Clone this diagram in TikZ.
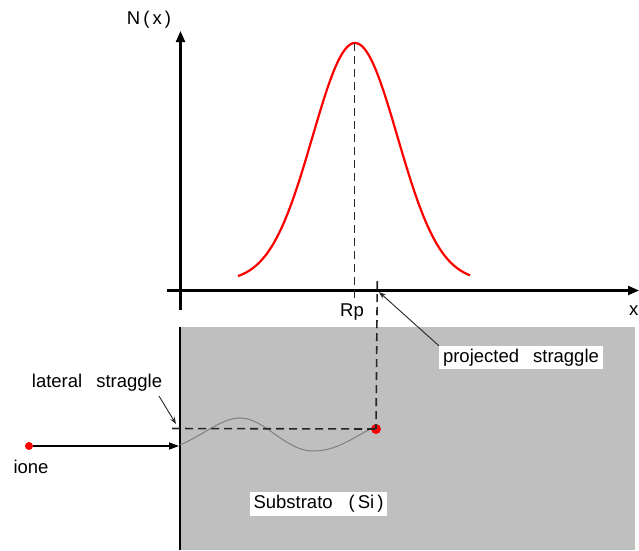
\documentclass[tikz,border=0pt]{standalone}
\usepackage{fontspec}
\setmainfont{Liberation Sans}
\usetikzlibrary{arrows.meta}
\tikzset{
  axisline/.style={line width=2.2pt, -{Triangle[length=11pt,width=9pt]}},
  dashline/.style={line width=1.6pt, dash pattern=on 8pt off 5pt, black!85},
  thinarrow/.style={line width=0.9pt, black!85, -{Stealth[length=7pt,width=5pt]}},
  ionarrow/.style={line width=1.4pt, -{Triangle[length=10pt,width=7pt]}},
  lbl/.style={font=\fontsize{18.5}{22}\selectfont, inner sep=0pt},
  boxlbl/.style={font=\fontsize{18.5}{22}\selectfont, fill=white, inner xsep=4pt, inner ysep=3pt},
  reddot/.style={circle, fill=red, inner sep=0pt},
}
\begin{document}
\begin{tikzpicture}[x=1pt, y=-1pt]
\useasboundingbox (0,0) rectangle (639,550);
% substrate
\fill[black!25] (180,327) rectangle (635,550);
\draw[line width=2.6pt] (180,327) -- (180,550);
% axes
\coordinate (yb) at (180.5,310);
\coordinate (yt) at (180.5,31);
\coordinate (xl) at (167,290.5);
\coordinate (xr) at (639,290.5);
\draw[axisline] (yb) -- (yt);
\draw[axisline] (xl) -- (xr);
\node[lbl] (N) at (149,20) {N\,(\,x\,)};
\node[lbl, anchor=east] (xlab) at (638.5,311) {x};
% gaussian
\draw[red, line width=2.2pt, domain=238:470, samples=120, smooth]
  plot (\x, {281.4-238.4*exp(-0.5*((\x-355)/42.5)^2)});
\coordinate (peak) at (354.5,43);
\coordinate (rpb) at (354.5,301);
\draw[dashline] (peak) -- (rpb);
\node[lbl] (Rp) at (352,312) {Rp};
% ion and path
\node[reddot, minimum size=8pt] (ion) at (29,446) {};
\node[lbl] (ione) at (31,467) {ione};
\coordinate (entry) at (179,446);
\draw[ionarrow] (ion) -- (entry);
\node[reddot, minimum size=10pt] (stop) at (376,429) {};
\draw[black!50, line width=1pt] (180,445) .. controls (205,434) and (222,418) .. (240,418)
  .. controls (265,418) and (285,451) .. (313,451)
  .. controls (338,451) and (355,436) .. (stop.west);
\coordinate (lat) at (172,428.5);
\coordinate (projtop) at (377.3,281);
\draw[dashline] (lat) -- (stop.center);
\draw[dashline] (projtop) -- (stop.center);
% labels
\node[lbl] (latlab) at (97,383) {lateral\hspace{14pt}straggle};
\coordinate (latend) at (176,424);
\draw[thinarrow] (159,396) -- (latend);
\node[boxlbl] (projlab) at (521,357.5) {projected\hspace{14pt}straggle};
\coordinate (projend) at (379,292);
\draw[thinarrow] (projlab.north west) -- (projend);
\node[boxlbl] (sub) at (318.5,504) {Substrato\hspace{16pt}(\hspace{3pt}Si\hspace{3pt})};
\end{tikzpicture}
\end{document}
